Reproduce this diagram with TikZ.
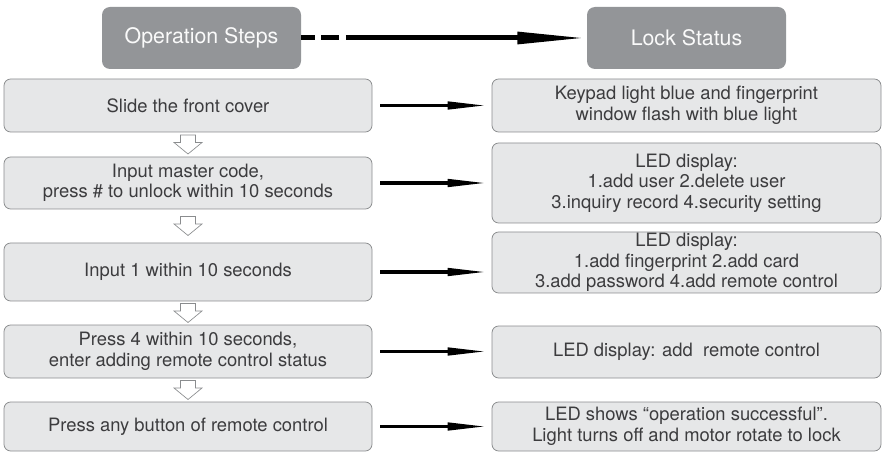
\documentclass[tikz,border=0pt]{standalone}
\usepackage{fontspec}
\setmainfont{TeX Gyre Heros}
\usepackage{tikz}
\usetikzlibrary{arrows.meta,calc}

\definecolor{headgray}{HTML}{939598}
\definecolor{boxfill}{HTML}{E6E7E8}
\definecolor{boxline}{HTML}{8A8C8E}
\definecolor{txtgray}{HTML}{3C3C3E}

\tikzset{
	head/.style={fill=headgray,rounded corners=6pt,text=white!95!headgray,
		minimum width=149.25pt,minimum height=46.5pt,inner sep=0pt,
		font=\fontsize{16}{19}\selectfont},
	stepbox/.style={draw=boxline,line width=0.6pt,fill=boxfill,rounded corners=5pt,
		text=txtgray,align=center,minimum width=276pt,inner sep=0pt,
		font=\fontsize{13.8}{15.4}\selectfont},
	statbox/.style={stepbox,minimum width=291.75pt},
	flow/.style={line width=2.6pt,-{Triangle[length=30pt,width=5.5pt]},shorten >=3pt},
	hollow/.style={draw=boxline,fill=white,line width=0.5pt,line join=miter}
}

\begin{document}
\begin{tikzpicture}[x=0.75pt,y=-0.75pt]
	\useasboundingbox (0,0) rectangle (885,452);
	% headers
	\node[head] (op) at (201.5,38) {Operation Steps};
	\node[head] (ls) at (686.5,38) {Lock Status};
	% operation steps
	\node[stepbox,minimum height=39.75pt] (s1) at (188,105.5) {Slide the front cover};
	\node[stepbox,minimum height=39pt] (s2) at (188,183) {Input master code,\\press \# to unlock within 10 seconds};
	\node[stepbox,minimum height=43.5pt] (s3) at (188,272) {Input 1 within 10 seconds};
	\node[stepbox,minimum height=39.75pt] (s4) at (188,351.5) {Press 4 within 10 seconds,\\enter adding remote control status};
	\node[stepbox,minimum height=36.75pt] (s5) at (188,426.5) {Press any button of remote control};
	% lock status
	\node[statbox,minimum height=39.75pt] (r1) at (686.5,105.5) {Keypad light blue and fingerprint\\window flash with blue light};
	\node[statbox,minimum height=60pt] (r2) at (686.5,183) {LED display:\\1.add user 2.delete user\\3.inquiry record 4.security setting};
	\node[statbox,minimum height=45.75pt] (r3) at (686.5,262.5) {LED display:\\1.add fingerprint 2.add card\\3.add password 4.add remote control};
	\node[statbox,minimum height=39pt] (r4) at (686.5,352) {LED display: add\ \ remote control};
	\node[statbox,minimum height=36.75pt] (r5) at (686.5,426.5) {LED shows “operation successful”.\\Light turns off and motor rotate to lock};
	%
	\draw[line width=3.75pt,dash pattern=on 10pt off 5pt on 13.5pt off 5pt on 400pt,
		-{Triangle[length=52pt,width=8.5pt]}] (op.east) -- (ls.west);
	% step to status
	\foreach \a/\b in {s1/r1,s2/r2,s3/r3,s4/r4,s5/r5}
		\draw[flow] ([xshift=6pt]\a.east) -- (\a.east -| \b.west);
	% down arrows
	\foreach \a/\b in {s1/s2,s2/s3,s3/s4,s4/s5}
		\draw[hollow,shift={($(\a.south)!0.5!(\b.north)$)}]
			(-7.5,-9.5) -- (7.5,-9.5) -- (7.5,-2) -- (14,-2) -- (0,9.5)
			-- (-14,-2) -- (-7.5,-2) -- cycle;
\end{tikzpicture}
\end{document}
